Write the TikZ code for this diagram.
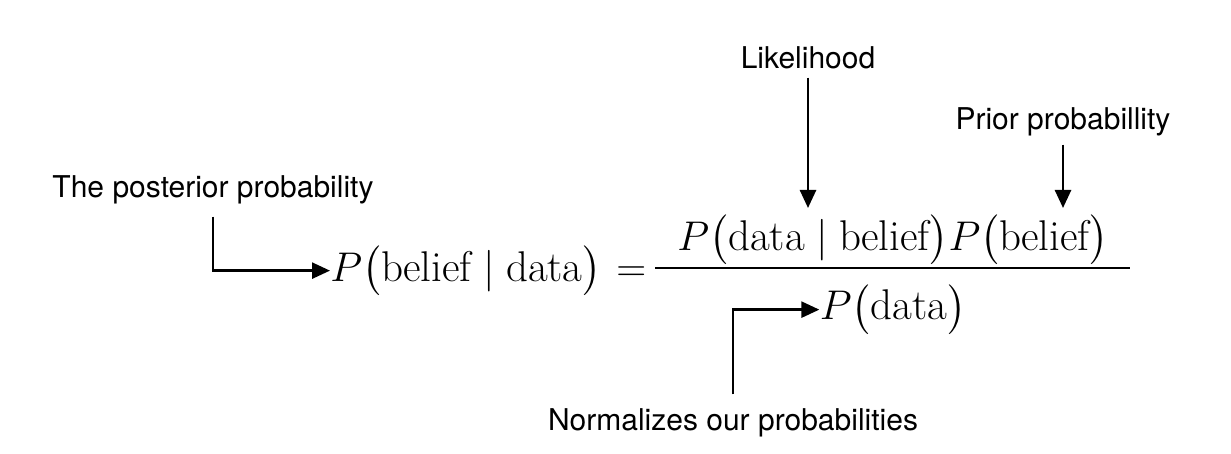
\documentclass[tikz,border=0pt]{standalone}
\usepackage{amsmath}
\usepackage{fontspec}
\setsansfont{TeX Gyre Heros}
\usetikzlibrary{arrows.meta}
\tikzset{lbl/.style={font=\sffamily\fontsize{15}{17}\selectfont, inner sep=0pt},
  eqn/.style={font=\fontsize{21.5}{25}\selectfont, inner sep=0pt, anchor=base},
  pointer/.style={-{Triangle[length=9pt,width=8pt]}, line width=1.3pt}}
\begin{document}
\begin{tikzpicture}[x=0.5pt, y=-0.5pt]
    \useasboundingbox (0,0) rectangle (1231,454);

    %labels
    \node[lbl] (post) at (213,190) {The posterior probability};
    \node[lbl] (like) at (808,58) {Likelihood};
    \node[lbl] (prior) at (1063,122) {Prior probabillity};
    \node[lbl] (norm) at (733,423) {Normalizes our probabilities};

    %equation
    \node[eqn, anchor=base west] (lhs) at (330,281) {$P\bigl(\mathrm{belief}\mid\mathrm{data}\bigr)$};
    \node[eqn, anchor=base west] (eq) at (616,281) {$=$};
    \node[eqn, anchor=base] (num) at (893,250) {$P\bigl(\mathrm{data}\mid\mathrm{belief}\bigr)P\bigl(\mathrm{belief}\bigr)$};
    \node[eqn, anchor=base] (den) at (893,320) {$P\bigl(\mathrm{data}\bigr)$};
    \draw[line width=1pt] (655,268) -- (1130,268);

    %pointers
    \draw[pointer] (post.south) ++(0,12) |- (lhs.west);
    \draw[pointer] (like.south) ++(0,8) -- (808,208);
    \draw[pointer] (prior.south) ++(0,8) -- (1063,208);
    \draw[pointer] (norm.north) ++(0,-14) |- (den.west);
\end{tikzpicture}
\end{document}
